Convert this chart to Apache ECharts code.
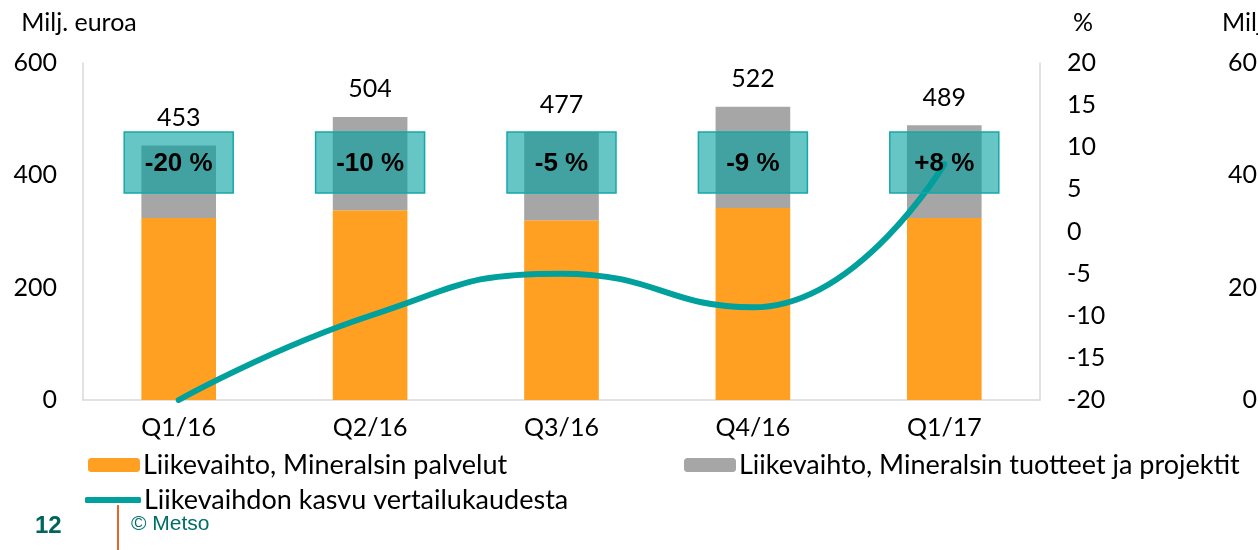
<!DOCTYPE html>
<html>
<head>
<meta charset="utf-8">
<script src="https://cdn.jsdelivr.net/npm/echarts@6/dist/echarts.min.js"></script>
<style>
html,body{margin:0;padding:0;background:#fff;}
#c{width:1258px;height:550px;}
</style>
</head>
<body>
<div id="c"></div>
<script>
// ---- data ----
const categories = ['Q1/16', 'Q2/16', 'Q3/16', 'Q4/16', 'Q1/17'];
const services = [324, 338, 320, 342, 324];          // Liikevaihto, Mineralsin palvelut
const totals = [453, 504, 477, 522, 489];            // total sales (bar labels)
const productsProjects = totals.map((t, i) => t - services[i]); // Liikevaihto, Mineralsin tuotteet ja projektit
const growth = [-20, -10, -5, -9, 8];                // Liikevaihdon kasvu vertailukaudesta, %
const leftTicks = { min: 0, max: 600, interval: 200 };
const rightTicks = { min: -20, max: 20, interval: 5 };
const farRightTicks = { min: 0, max: 60, interval: 20 }; // partially visible axis at the right edge

const BOX_LEVEL = 423;   // vertical centre of the growth boxes, left-axis units
const FONT = 'Lato';
const ORANGE = '#FFA023', GREY = '#A6A6A6', TEAL = '#00A09C';

const chart = echarts.init(document.getElementById('c'));
const growthText = v => (v > 0 ? '+' : '') + v + ' %';
const legendText = { fontFamily: FONT, fontSize: 27, color: '#000', lineHeight: 28, padding: [0,0,0,-2] };

chart.setOption({
  animation: false,
  backgroundColor: '#fff',
  textStyle: { fontFamily: FONT },
  grid: { left: 83, right: 218, top: 63, bottom: 150, containLabel: false, outerBoundsMode: 'none' },
  legend: [
    { data: ['Liikevaihto, Mineralsin palvelut'], left: 88, top: 451, padding: 0,
      itemWidth: 52, itemHeight: 14, itemGap: 0, textStyle: legendText },
    { data: ['Liikevaihto, Mineralsin tuotteet ja projektit'], left: 684, top: 451, padding: 0,
      itemWidth: 52, itemHeight: 14, itemGap: 0, textStyle: legendText },
    { data: [{ name: 'Liikevaihdon kasvu vertailukaudesta', icon: 'roundRect' }], left: 85, top: 486, padding: 0,
      itemWidth: 56, itemHeight: 6, itemGap: 0, textStyle: legendText }
  ],
  xAxis: {
    type: 'category', data: categories,
    axisLine: { lineStyle: { color: '#D9D9D9', width: 1.5 } },
    axisTick: { show: false },
    axisLabel: { fontFamily: FONT, fontSize: 25, color: '#000', margin: 15 }
  },
  yAxis: [
    { type: 'value', min: leftTicks.min, max: leftTicks.max, interval: leftTicks.interval,
      name: 'Milj. euroa', nameLocation: 'end', nameGap: 28,
      nameTextStyle: { fontFamily: FONT, fontSize: 25, color: '#000', align: 'center', padding: [0,0,0,-8] },
      axisLine: { show: true, lineStyle: { color: '#D9D9D9', width: 1.5 } },
      axisTick: { show: false }, splitLine: { show: false },
      axisLabel: { fontFamily: FONT, fontSize: 25, color: '#000', margin: 26 } },
    { type: 'value', position: 'right', min: rightTicks.min, max: rightTicks.max, interval: rightTicks.interval,
      name: '%', nameLocation: 'end', nameGap: 28,
      nameTextStyle: { fontFamily: FONT, fontSize: 25, color: '#000', align: 'left', padding: [0,0,0,33] },
      axisLine: { show: true, lineStyle: { color: '#D9D9D9', width: 1.5 } },
      axisTick: { show: false }, splitLine: { show: false },
      axisLabel: { fontFamily: FONT, fontSize: 25, color: '#000', margin: 27 } },
    { type: 'value', position: 'right', offset: 152, min: farRightTicks.min, max: farRightTicks.max, interval: farRightTicks.interval,
      name: 'Milj. euroa', nameLocation: 'end', nameGap: 28,
      nameTextStyle: { fontFamily: FONT, fontSize: 25, color: '#000', align: 'left', padding: [0,0,0,30] },
      axisLine: { show: false }, axisTick: { show: false }, splitLine: { show: false },
      axisLabel: { fontFamily: FONT, fontSize: 25, color: '#000', margin: 65, align: 'right' } }
  ],
  series: [
    { name: 'Liikevaihto, Mineralsin palvelut', type: 'bar', stack: 'sales', data: services,
      barWidth: '39%', itemStyle: { color: ORANGE }, z: 2 },
    { name: 'Liikevaihto, Mineralsin tuotteet ja projektit', type: 'bar', stack: 'sales', data: productsProjects,
      barWidth: '39%', itemStyle: { color: GREY }, z: 2,
      label: { show: true, position: 'top', distance: 15, fontFamily: FONT, fontSize: 25, color: '#000',
        formatter: p => String(totals[p.dataIndex]) } },
    { name: 'Liikevaihdon kasvu vertailukaudesta', type: 'line', yAxisIndex: 1, data: growth,
      smooth: 0.5, symbol: 'none', showSymbol: false, z: 3,
      lineStyle: { color: TEAL, width: 6, cap: 'round' }, itemStyle: { color: TEAL } },
    { name: 'growthBoxes', type: 'custom', yAxisIndex: 0, z: 4, silent: true,
      data: growth.map((g, i) => [i, BOX_LEVEL, g]),
      renderItem: (params, api) => {
        const c = api.coord([api.value(0), api.value(1)]);
        const w = 109, h = 61;
        return {
          type: 'group',
          children: [
            { type: 'rect', shape: { x: c[0] - w / 2, y: c[1] - h / 2, width: w, height: h },
              style: { fill: 'rgba(0,158,158,0.6)', stroke: '#16A8A8', lineWidth: 1.5 } },
            { type: 'text', style: { x: c[0], y: c[1] + 1, text: growthText(api.value(2)),
              align: 'center', verticalAlign: 'middle',
              fontFamily: 'Liberation Sans', fontWeight: 'bold', fontSize: 26, fill: '#000' } }
          ]
        };
      } }
  ],
  graphic: [
    { type: 'text', left: 35, top: 514, style: { text: '12', fontFamily: 'Liberation Sans', fontWeight: 'bold', fontSize: 24, fill: '#00655C' } },
    { type: 'line', shape: { x1: 118, y1: 505, x2: 118, y2: 550 }, style: { stroke: '#E8652A', lineWidth: 2 } },
    { type: 'text', left: 131, top: 514, style: { text: '© Metso', fontFamily: 'Liberation Sans', fontSize: 21, fill: '#006E66' } }
  ]
});
</script>
</body>
</html>
